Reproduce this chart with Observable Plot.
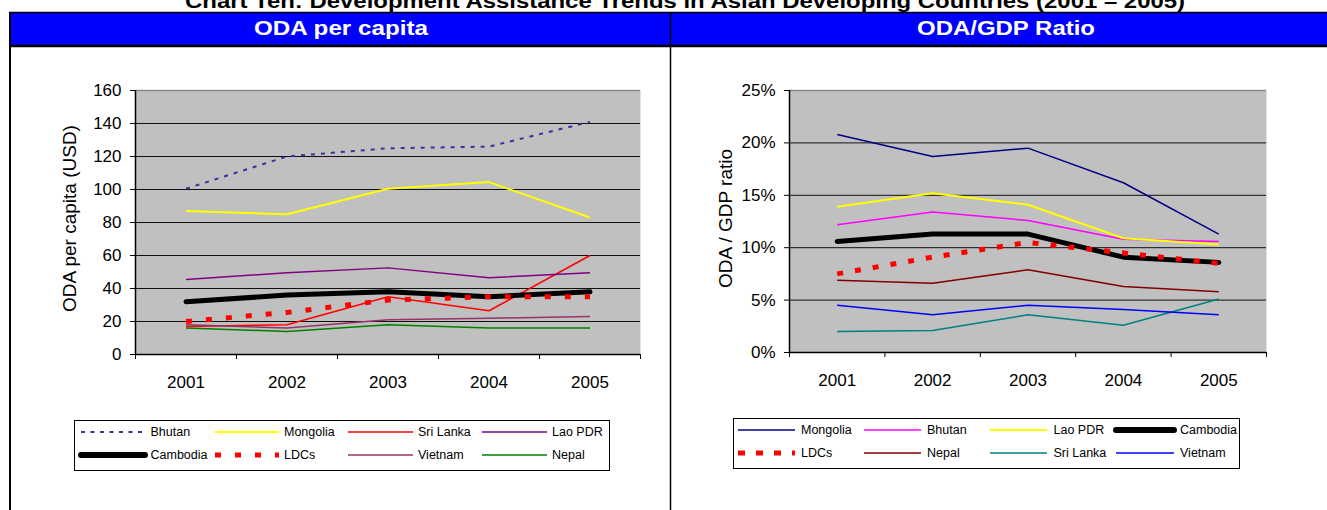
<!DOCTYPE html>
<html>
<head>
<meta charset="utf-8">
<script src="https://cdn.jsdelivr.net/npm/d3@7"></script>
<script src="https://cdn.jsdelivr.net/npm/@observablehq/plot@0.6"></script>
<style>
  html, body { margin: 0; padding: 0; background: #fff; }
  body { width: 1327px; height: 510px; overflow: hidden; position: relative; font-family: Arial, "Liberation Sans", Helvetica, sans-serif; }
  .abs { position: absolute; top: 0; }
</style>
</head>
<body>
<script>
// ---------------- DATA ----------------
const years = [2001, 2002, 2003, 2004, 2005];

// ODA per capita (USD)
const pcSeries   = ["Bhutan", "Mongolia", "Sri Lanka", "Lao PDR", "Cambodia", "LDCs", "Vietnam", "Nepal"];
const pcBhutan   = [100.5, 120, 125, 126, 141];
const pcMongolia = [87, 85, 100.5, 104.5, 83];
const pcSriLanka = [17, 18, 35, 26.5, 60];
const pcLaoPDR   = [45.5, 49.5, 52.5, 46.5, 49.5];
const pcCambodia = [32, 36, 38, 35, 38];
const pcLDCs     = [20, 25.5, 33, 35, 35];
const pcVietnam  = [18, 16, 21, 22, 23];
const pcNepal    = [16, 14, 18, 16, 16];
const pcTicks    = [0, 20, 40, 60, 80, 100, 120, 140, 160];

// ODA / GDP ratio (%)
const grSeries   = ["Mongolia", "Bhutan", "Lao PDR", "Cambodia", "LDCs", "Nepal", "Sri Lanka", "Vietnam"];
const grMongolia = [20.8, 18.7, 19.5, 16.2, 11.3];
const grBhutan   = [12.2, 13.4, 12.6, 10.8, 10.6];
const grLaoPDR   = [13.9, 15.2, 14.1, 10.9, 10.3];
const grCambodia = [10.6, 11.3, 11.3, 9.1, 8.6];
const grLDCs     = [7.5, 9.1, 10.5, 9.5, 8.5];
const grNepal    = [6.9, 6.6, 7.9, 6.3, 5.8];
const grSriLanka = [2.0, 2.1, 3.6, 2.6, 5.1];
const grVietnam  = [4.5, 3.6, 4.5, 4.1, 3.6];
const grTicks    = [0, 5, 10, 15, 20, 25];

const titleText  = "Chart Ten: Development Assistance Trends in Asian Developing Countries (2001 \u2013 2005)";
const headLeft   = "ODA per capita";
const headRight  = "ODA/GDP Ratio";
const labelLeft  = "ODA per capita (USD)";
const labelRight = "ODA / GDP ratio";

// ---------------- STYLES ----------------
const FONT = "Arial, 'Liberation Sans', Helvetica, sans-serif";
const pcStyle = {
  "Bhutan":    {stroke: "#333399", width: 2,   dash: "4,6"},
  "Mongolia":  {stroke: "#ffff00", width: 2},
  "Sri Lanka": {stroke: "#ff0000", width: 1.5},
  "Lao PDR":   {stroke: "#800080", width: 1.5},
  "Cambodia":  {stroke: "#000000", width: 5, cap: "round"},
  "LDCs":      {stroke: "#ff0000", width: 5, dash: "6,14"},
  "Vietnam":   {stroke: "#993366", width: 1.5},
  "Nepal":     {stroke: "#008000", width: 1.5}
};
const grStyle = {
  "Mongolia":  {stroke: "#000080", width: 1.5},
  "Bhutan":    {stroke: "#ff00ff", width: 1.5},
  "Lao PDR":   {stroke: "#ffff00", width: 2},
  "Cambodia":  {stroke: "#000000", width: 5, cap: "round"},
  "LDCs":      {stroke: "#ff0000", width: 5, dash: "6,12"},
  "Nepal":     {stroke: "#800000", width: 1.5},
  "Sri Lanka": {stroke: "#008080", width: 1.5},
  "Vietnam":   {stroke: "#0000ff", width: 1.5}
};

function buildRows(series, arrays) {
  return series.flatMap((s, i) => years.map((yr, j) => ({series: s, year: yr, value: arrays[i][j]})));
}
const pcRows = buildRows(pcSeries, [pcBhutan, pcMongolia, pcSriLanka, pcLaoPDR, pcCambodia, pcLDCs, pcVietnam, pcNepal]);
const grRows = buildRows(grSeries, [grMongolia, grBhutan, grLaoPDR, grCambodia, grLDCs, grNepal, grSriLanka, grVietnam]);

function chart({rows, series, styles, ticks, fmt, label, width, mLeft, mRight, mBottom, labelDx, labelDy}) {
  const x0 = years[0] - 0.5, x1 = years[years.length - 1] + 0.5;
  const bounds = d3.range(years.length + 1).map(i => x0 + i);
  const lo = ticks[0], hi = ticks[ticks.length - 1];
  return Plot.plot({
    width, height: 510,
    marginLeft: mLeft, marginRight: mRight, marginTop: 90, marginBottom: mBottom,
    x: {type: "linear", domain: [x0, x1]},
    y: {type: "linear", domain: [lo, hi]},
    style: {fontFamily: FONT, fontSize: "17px", background: "transparent", color: "#000", overflow: "visible"},
    marks: [
      Plot.frame({fill: "#c0c0c0", stroke: null}),
      Plot.gridY({ticks: ticks.filter(t => t > lo && t < hi), stroke: "#111", strokeOpacity: 1, strokeWidth: 1}),
      Plot.ruleY([hi], {stroke: "#8a8a8a", strokeWidth: 1.5}),
      ...series.map(s => Plot.line(rows.filter(r => r.series === s), {
        x: "year", y: "value",
        stroke: styles[s].stroke, strokeWidth: styles[s].width,
        strokeDasharray: styles[s].dash, strokeLinecap: styles[s].cap || "butt", strokeLinejoin: "round"
      })),
      Plot.ruleX([x0], {stroke: "#000", strokeWidth: 1.5}),
      Plot.ruleY([lo], {stroke: "#000", strokeWidth: 1.5}),
      Plot.axisY({ticks, tickSize: 5, tickPadding: 9, tickFormat: fmt, label: null, fontSize: 17}),
      Plot.axisX({ticks: years, tickSize: 0, tickPadding: 21, tickFormat: d => String(d), label: null, fontSize: 17}),
      Plot.axisX({ticks: bounds, tickSize: 5, tickFormat: () => "", label: null}),
      Plot.text([label], {text: d => d, frameAnchor: "left", textAnchor: "middle", lineAnchor: "middle",
        dx: labelDx, dy: labelDy, rotate: -90, fontSize: 19, fill: "#000"})
    ]
  });
}

const left = chart({
  rows: pcRows, series: pcSeries, styles: pcStyle, ticks: pcTicks, fmt: d => String(d),
  label: labelLeft, width: 670, mLeft: 135, mRight: 30, mBottom: 156, labelDx: -65.5, labelDy: -4
});
left.classList.add("abs");
left.style.left = "0px";
document.body.appendChild(left);

const right = chart({
  rows: grRows, series: grSeries, styles: grStyle, ticks: grTicks, fmt: d => d + "%",
  label: labelRight, width: 657, mLeft: 119, mRight: 61, mBottom: 158, labelDx: -64, labelDy: -3
});
right.classList.add("abs");
right.style.left = "670px";
document.body.appendChild(right);

// ---------------- OVERLAY: title, header, legends ----------------
const ov = d3.create("svg")
  .attr("width", 1327).attr("height", 510)
  .attr("class", "abs")
  .style("left", "0px").style("pointer-events", "none")
  .style("font-family", FONT);

ov.append("text").attr("x", 685).attr("y", 8).attr("text-anchor", "middle")
  .attr("font-weight", "bold").attr("font-size", 20)
  .attr("textLength", 1000).attr("lengthAdjust", "spacingAndGlyphs").text(titleText);

// header band
ov.append("rect").attr("x", 10).attr("y", 13).attr("width", 1327).attr("height", 32).attr("fill", "#0000ff");
ov.append("line").attr("x1", 9).attr("x2", 1327).attr("y1", 12.5).attr("y2", 12.5).attr("stroke", "#000").attr("stroke-width", 1.5);
ov.append("line").attr("x1", 9).attr("x2", 1327).attr("y1", 46).attr("y2", 46).attr("stroke", "#000").attr("stroke-width", 2.5);
ov.append("line").attr("x1", 10).attr("x2", 10).attr("y1", 12).attr("y2", 510).attr("stroke", "#000").attr("stroke-width", 2);
ov.append("line").attr("x1", 670.5).attr("x2", 670.5).attr("y1", 12).attr("y2", 510).attr("stroke", "#000").attr("stroke-width", 1.5);
ov.append("text").attr("x", 341).attr("y", 35).attr("text-anchor", "middle").attr("fill", "#fff")
  .attr("font-weight", "bold").attr("font-size", 20)
  .attr("textLength", 174).attr("lengthAdjust", "spacingAndGlyphs").text(headLeft);
ov.append("text").attr("x", 1006).attr("y", 35).attr("text-anchor", "middle").attr("fill", "#fff")
  .attr("font-weight", "bold").attr("font-size", 20)
  .attr("textLength", 178).attr("lengthAdjust", "spacingAndGlyphs").text(headRight);

function drawLegend(box, series, styles, cols, rowsY, overrides) {
  const g = ov.append("g");
  g.append("rect").attr("x", box.x + 0.5).attr("y", box.y + 0.5).attr("width", box.w).attr("height", box.h)
    .attr("fill", "#fff").attr("stroke", "#000").attr("stroke-width", 1);
  series.forEach((s, i) => {
    const c = cols[i % 4], y = rowsY[Math.floor(i / 4)];
    const st = Object.assign({}, styles[s], overrides[s] || {});
    g.append("line").attr("x1", c.x1).attr("x2", c.x2).attr("y1", y).attr("y2", y)
      .attr("stroke", st.stroke).attr("stroke-width", st.width)
      .attr("stroke-dasharray", st.dash || null)
      .attr("stroke-linecap", st.cap || "butt");
    g.append("text").attr("x", c.tx).attr("y", y).attr("dy", "0.35em")
      .attr("font-size", 12.5).attr("fill", "#000").text(s);
  });
}

drawLegend({x: 74, y: 420, w: 535, h: 50}, pcSeries, pcStyle,
  [{x1: 81, x2: 145, tx: 150.5}, {x1: 215, x2: 279, tx: 284}, {x1: 348, x2: 413, tx: 418}, {x1: 482, x2: 547, tx: 552}],
  [432, 455], {"Cambodia": {width: 6}, "Bhutan": {dash: "4,5.5"}});

drawLegend({x: 733, y: 418, w: 506, h: 50}, grSeries, grStyle,
  [{x1: 738, x2: 795, tx: 801}, {x1: 864, x2: 921, tx: 927}, {x1: 990, x2: 1047, tx: 1053.5}, {x1: 1116, x2: 1174, tx: 1180}],
  [430, 453], {"Cambodia": {width: 6}, "LDCs": {dash: "7,11"}});

document.body.appendChild(ov.node());
</script>
</body>
</html>
